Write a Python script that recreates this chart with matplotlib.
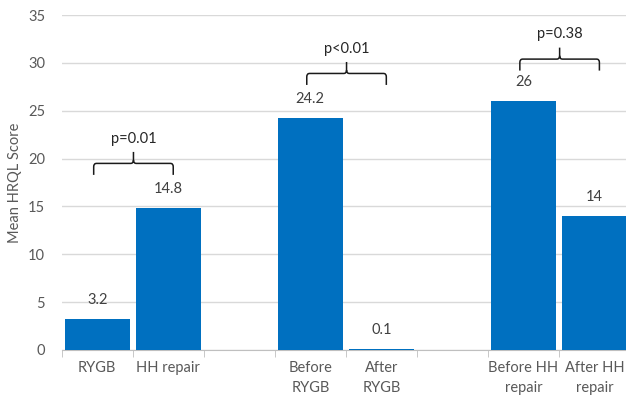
import numpy as np
import matplotlib
matplotlib.use("Agg")
import matplotlib.pyplot as plt
from matplotlib.path import Path
from matplotlib.patches import PathPatch

plt.rcParams['font.family'] = ['Lato', 'DejaVu Sans']

# Категорії (порожні слоти розділяють групи)
labels = ["RYGB", "HH repair", "", "Before\nRYGB", "After\nRYGB", "",
          "Before HH\nrepair", "After HH\nrepair"]
values = [3.2, 14.8, None, 24.2, 0.1, None, 26, 14]
value_text = ["3.2", "14.8", "", "24.2", "0.1", "", "26", "14"]

# Порівняння пар
pairs = [(0, 1), (3, 4), (6, 7)]
pvals = ["p=0.01", "p<0.01", "p=0.38"]
bracket_y = [19.5, 28.9, 30.4]

fig = plt.figure(figsize=(6.26, 3.97), dpi=100)
ax = fig.add_axes([0.0986, 0.1184, 0.9077, 0.8436])

x = np.arange(len(labels))
idx = [i for i, v in enumerate(values) if v is not None]
ax.bar(x[idx], [values[i] for i in idx], width=0.915, color='#0070C0', zorder=3)

for i in idx:
    ax.annotate(value_text[i], (x[i], values[i]), xytext=(0, 9),
                textcoords='offset points', ha='center', va='bottom',
                fontsize=10.5, color='#404040')

# Дужки з p-значеннями
for (a, b), p, yb in zip(pairs, pvals, bracket_y):
    L, R = a - 0.05, b + 0.07
    M = (L + R) / 2
    d, r, rx = 1.2, 0.35, 0.04
    verts = [(L, yb - d), (L, yb - r), (L, yb), (L + rx, yb),
             (M - rx, yb), (M, yb), (M, yb + r), (M, yb + d),
             (M, yb + r), (M, yb), (M + rx, yb),
             (R - rx, yb), (R, yb), (R, yb - r), (R, yb - d)]
    codes = [Path.MOVETO, Path.LINETO, Path.CURVE3, Path.CURVE3,
             Path.LINETO, Path.CURVE3, Path.CURVE3, Path.LINETO,
             Path.MOVETO, Path.CURVE3, Path.CURVE3,
             Path.LINETO, Path.CURVE3, Path.CURVE3, Path.LINETO]
    ax.add_patch(PathPatch(Path(verts, codes), fill=False, lw=1.1,
                           edgecolor='#1a1a1a', zorder=4))
    ax.text(M, yb + 2.6, p, ha='center', va='center', fontsize=10.5,
            color='#262626')

ax.set_xlim(-0.5, len(labels) - 0.5)
ax.set_ylim(0, 35)
ax.set_yticks(np.arange(0, 36, 5))
ax.set_xticks(x)
ax.set_xticklabels(labels)
for lbl in ax.get_xticklabels():
    lbl.set_linespacing(1.55)
ax.set_xticks(np.arange(-0.5, len(labels), 1), minor=True)
ax.tick_params(axis='x', which='major', length=0, pad=8, labelsize=10.5,
               labelcolor='#595959')
ax.tick_params(axis='x', which='minor', length=5, color='#BFBFBF')
ax.tick_params(axis='y', length=0, pad=12, labelsize=10.5, labelcolor='#595959')
ax.grid(axis='y', color='#D9D9D9', lw=1, zorder=0)
for s in ['top', 'right', 'left']:
    ax.spines[s].set_visible(False)
ax.spines['bottom'].set_color('#BFBFBF')
ax.set_ylabel('Mean HRQL Score', fontsize=10.5, color='#595959', labelpad=4)

fig.savefig('out.png', dpi=100)
